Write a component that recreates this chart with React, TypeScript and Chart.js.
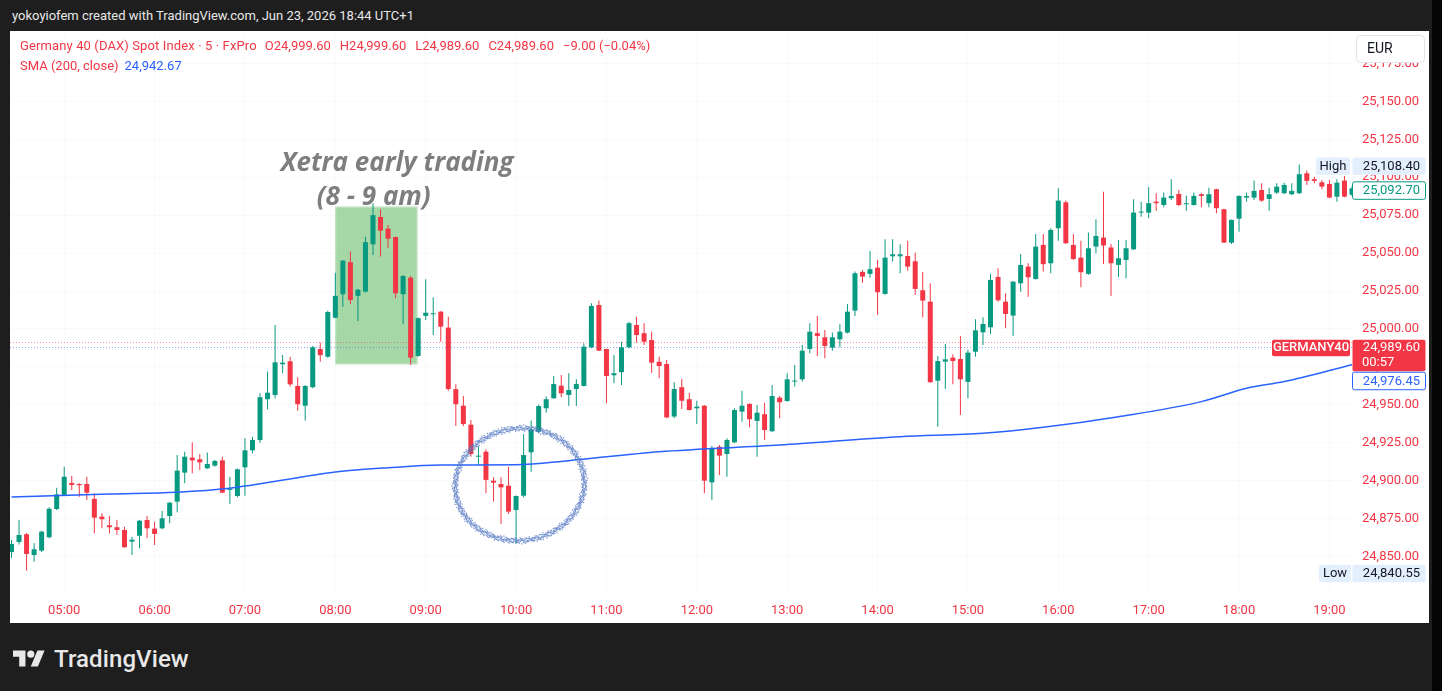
import React, { useEffect, useRef } from 'react';
import { Chart, registerables } from 'chart.js';

Chart.register(...registerables);

// ---------- data ----------
const FIRST_CANDLE = '04:25';
const CANDLE_MINUTES = 5;
const TIME_LABELS = ['05:00', '06:00', '07:00', '08:00', '09:00', '10:00', '11:00', '12:00', '13:00', '14:00', '15:00', '16:00', '17:00', '18:00', '19:00'];
const PRICE_TICKS = [24850, 24875, 24900, 24925, 24950, 24975, 25000, 25025, 25050, 25075, 25100, 25125, 25150, 25175];

const OPEN = [
  24853.0, 24859.6, 24864.7, 24851.0, 24853.9, 24862.7, 24881.3, 24890.6, 24898.5, 24897.8,
  24897.8, 24888.0, 24876.3, 24870.6, 24869.3, 24867.5, 24859.8, 24863.7, 24874.1, 24868.4,
  24868.6, 24876.7, 24886.2, 24905.3, 24915.2, 24914.1, 24908.2, 24909.9, 24913.4, 24893.9,
  24889.9, 24908.8, 24920.0, 24926.8, 24953.7, 24956.5, 24976.7, 24978.7, 24962.4, 24949.4,
  24961.6, 24986.8, 24981.7, 25007.4, 25022.9, 25044.0, 25021.8, 25024.6, 25055.8, 25073.8,
  25066.1, 25060.6, 25022.9, 25033.8, 24982.2, 25008.6, 25009.7, 25011.4, 25000.9, 24960.3,
  24949.4, 24936.9, 24915.8, 24919.1, 24900.0, 24897.8, 24896.7, 24880.7, 24890.1, 24918.7,
  24932.3, 24947.7, 24954.3, 24962.6, 24956.5, 24960.4, 24962.4, 24987.9, 25015.8, 24986.8,
  24969.5, 24971.5, 24987.9, 25002.6, 24997.2, 24992.7, 24978.4, 24976.9, 24942.3, 24961.6,
  24953.7, 24947.7, 24949.4, 24898.9, 24922.4, 24917.6, 24925.3, 24945.5, 24950.6, 24939.4,
  24943.8, 24932.6, 24954.7, 24952.5, 24965.3, 24966.8, 24986.8, 24997.2, 24994.5, 24987.7,
  24993.2, 24997.6, 25012.1, 25037.6, 25036.3, 25040.4, 25023.1, 25047.9, 25047.9, 25048.1,
  25044.6, 25025.5, 25018.0, 24965.9, 24978.4, 24981.1, 24980.2, 24965.1, 24985.0, 24997.8,
  25001.1, 25034.3, 25018.0, 25008.8, 25030.1, 25041.1, 25033.0, 25055.4, 25043.3, 25066.4,
  25083.5, 25055.4, 25047.0, 25036.3, 25054.3, 25060.2, 25053.7, 25042.2, 25045.5, 25052.5,
  25076.7, 25076.7, 25083.9, 25081.7, 25086.2, 25089.0, 25082.2, 25081.7, 25088.8, 25082.9,
  25092.1, 25078.9, 25056.9, 25072.7, 25086.6, 25086.6, 25091.6, 25085.7, 25089.9, 25089.5,
  25088.8, 25089.5, 25102.6, 25098.7, 25096.7, 25095.6, 25087.2, 25097.8, 25088.5,
];
const HIGH = [
  24860.9, 24874.1, 24865.5, 24858.7, 24867.0, 24882.5, 24895.4, 24909.2, 24903.1, 24898.3,
  24902.6, 24891.7, 24878.5, 24876.7, 24874.1, 24869.7, 24863.1, 24874.0, 24876.7, 24873.0,
  24880.0, 24886.0, 24916.9, 24919.1, 24925.3, 24917.6, 24918.5, 24913.6, 24915.8, 24902.6,
  24908.0, 24927.9, 24929.0, 24957.6, 24971.9, 25002.6, 24982.9, 24981.7, 24968.2, 24963.1,
  24988.8, 24991.0, 25012.0, 25037.1, 25045.5, 25051.0, 25026.3, 25060.8, 25082.9, 25078.9,
  25068.6, 25061.0, 25035.6, 25034.9, 25007.5, 25032.8, 25020.9, 25011.8, 25008.1, 24963.5,
  24955.8, 24940.0, 24922.9, 24920.7, 24902.2, 24902.2, 24909.2, 24890.3, 24930.8, 24939.6,
  24950.0, 24955.4, 24969.0, 24969.7, 24970.8, 24966.8, 24990.6, 25016.9, 25018.7, 24987.0,
  24982.9, 24991.6, 25004.8, 25008.1, 25003.8, 24998.2, 24981.7, 24979.6, 24964.9, 24967.0,
  24958.0, 24952.7, 24949.8, 24922.9, 24923.5, 24928.0, 24947.7, 24959.3, 24951.0, 24949.9,
  24951.4, 24963.1, 24955.8, 24970.8, 24976.3, 24989.5, 25003.8, 25008.6, 24999.3, 24997.6,
  25003.3, 25016.5, 25037.8, 25038.9, 25051.4, 25045.5, 25059.1, 25059.1, 25055.8, 25058.2,
  25050.3, 25037.6, 25030.1, 24982.2, 24990.1, 24983.3, 24995.4, 24986.2, 25006.4, 25007.7,
  25036.3, 25040.0, 25023.5, 25031.5, 25049.4, 25043.3, 25062.6, 25062.6, 25066.4, 25092.7,
  25084.6, 25062.6, 25058.2, 25063.5, 25072.3, 25090.5, 25056.0, 25058.7, 25058.7, 25085.5,
  25083.9, 25093.4, 25089.5, 25089.9, 25098.7, 25091.6, 25087.9, 25089.9, 25089.5, 25093.1,
  25092.5, 25079.2, 25072.2, 25088.0, 25089.9, 25097.8, 25096.0, 25093.1, 25096.0, 25096.4,
  25096.0, 25108.4, 25104.4, 25100.4, 25098.2, 25098.2, 25098.7, 25100.9, 25094.0,
];
const LOW = [
  24849.0, 24858.0, 24840.55, 24846.6, 24853.0, 24862.0, 24880.6, 24890.0, 24893.9, 24889.4,
  24887.3, 24865.3, 24868.6, 24865.3, 24864.2, 24856.0, 24851.0, 24855.4, 24862.0, 24857.6,
  24868.0, 24871.9, 24879.2, 24898.3, 24904.9, 24907.1, 24907.7, 24909.2, 24891.7, 24884.6,
  24889.0, 24890.1, 24918.0, 24925.0, 24947.1, 24954.3, 24970.8, 24962.0, 24946.1, 24939.6,
  24961.0, 24978.4, 24981.0, 25007.0, 25014.7, 25016.5, 25005.3, 25024.0, 25048.8, 25047.7,
  25053.2, 25020.2, 25003.1, 24976.3, 24981.7, 25005.9, 24996.0, 24991.6, 24959.3, 24936.1,
  24936.0, 24915.8, 24910.3, 24891.7, 24886.2, 24871.5, 24878.0, 24858.3, 24889.0, 24905.9,
  24931.5, 24944.8, 24954.0, 24955.0, 24949.2, 24949.2, 24962.0, 24987.3, 24985.5, 24951.0,
  24964.2, 24963.1, 24987.3, 24991.0, 24989.5, 24971.2, 24967.5, 24941.1, 24941.1, 24947.3,
  24946.3, 24937.4, 24891.7, 24887.3, 24903.8, 24902.6, 24924.7, 24938.9, 24935.2, 24915.8,
  24926.8, 24932.0, 24941.1, 24952.0, 24962.0, 24965.3, 24984.0, 24982.2, 24980.7, 24985.7,
  24987.9, 24997.0, 25008.6, 25030.5, 25033.8, 25009.2, 25022.5, 25044.4, 25036.7, 25038.4,
  25022.4, 25007.7, 24964.5, 24935.6, 24960.4, 24963.5, 24943.3, 24954.3, 24981.7, 24989.5,
  24996.7, 25018.0, 25000.5, 24995.6, 25024.6, 25021.3, 25032.5, 25037.8, 25036.7, 25058.2,
  25056.0, 25045.5, 25027.5, 25035.8, 25049.9, 25042.8, 25021.8, 25034.3, 25033.4, 25052.0,
  25074.0, 25073.0, 25078.0, 25080.2, 25085.0, 25081.0, 25078.0, 25081.3, 25080.2, 25080.2,
  25076.3, 25056.6, 25056.0, 25064.1, 25083.9, 25085.0, 25083.9, 25078.0, 25089.0, 25089.0,
  25088.3, 25089.0, 25094.9, 25096.0, 25092.1, 25086.2, 25083.9, 25086.8, 25087.5,
];
const CLOSE = [
  24858.3, 24864.2, 24851.7, 24854.8, 24866.4, 24881.5, 24891.0, 24902.6, 24897.2, 24897.0,
  24892.1, 24875.6, 24874.6, 24869.3, 24867.5, 24856.1, 24861.1, 24873.6, 24868.6, 24864.9,
  24875.2, 24885.5, 24906.6, 24915.8, 24913.4, 24912.1, 24911.0, 24913.0, 24892.1, 24894.5,
  24907.5, 24920.0, 24926.8, 24955.0, 24958.0, 24978.0, 24977.8, 24963.5, 24950.4, 24962.4,
  24987.9, 24982.7, 25011.2, 25021.8, 25045.0, 25019.1, 25025.9, 25057.2, 25075.0, 25064.8,
  25059.5, 25023.5, 25034.9, 24981.1, 25007.1, 25010.7, 25010.1, 25001.5, 24960.4, 24950.4,
  24937.4, 24917.6, 24916.3, 24900.5, 24898.7, 24895.6, 24879.6, 24889.9, 24916.9, 24933.9,
  24949.2, 24953.7, 24963.7, 24957.6, 24959.8, 24963.7, 24988.3, 25015.2, 24985.7, 24969.0,
  24970.8, 24987.9, 25003.8, 24996.0, 24991.6, 24977.8, 24975.6, 24941.7, 24960.4, 24952.7,
  24946.6, 24948.8, 24900.0, 24921.6, 24916.5, 24926.8, 24946.6, 24949.4, 24940.5, 24944.8,
  24933.4, 24955.8, 24951.7, 24966.8, 24965.9, 24985.7, 24998.2, 24995.4, 24988.8, 24994.5,
  24998.2, 25011.4, 25036.7, 25034.5, 25039.4, 25024.2, 25047.0, 25049.2, 25049.2, 25041.1,
  25026.4, 25018.7, 24964.9, 24978.9, 24980.0, 24978.9, 24966.8, 24984.4, 24999.1, 25003.3,
  25032.3, 25018.9, 25009.9, 25031.2, 25042.2, 25034.1, 25054.3, 25042.7, 25065.3, 25084.6,
  25056.5, 25046.1, 25037.4, 25053.2, 25061.3, 25055.0, 25043.3, 25046.6, 25053.2, 25076.7,
  25077.3, 25082.9, 25082.9, 25086.6, 25087.7, 25081.7, 25082.9, 25087.7, 25087.7, 25088.8,
  25079.6, 25056.9, 25071.9, 25087.7, 25087.7, 25091.0, 25084.6, 25088.8, 25093.8, 25094.9,
  25091.0, 25102.0, 25097.6, 25097.6, 25093.8, 25086.6, 25096.4, 25087.2, 25092.7,
];

const SMA_INDEX = [0, 13, 22, 29, 32, 38, 43, 50, 57, 67, 74, 86, 102, 118, 129, 137, 147, 158, 164, 169, 178];
const SMA_VALUE = [
  24889.3, 24891.2, 24892.4, 24895.0, 24897.2, 24902.0, 24905.7, 24908.5, 24910.3, 24910.5,
  24913.2, 24919.1, 24923.5, 24929.0, 24931.2, 24935.2, 24942.2, 24952.1, 24960.9, 24965.3, 24976.45,
];

const HIGH_MARK = 25108.4;
const LOW_MARK = 24840.55;
const CLOSE_MARK = 25092.7;
const LAST_PRICE = 24989.6;
const SMA_LAST = 24976.45;
const COUNTDOWN = '00:57';
const PRICE_LINE_RED = 24991.5;
const PRICE_LINE_BLUE = 24988.0;

const XETRA_INDEX = [43, 53.9];
const XETRA_PRICE = [24976.7, 25080.6];
const NOTE_LINES = ['Xetra early trading', '(8 - 9 am)'];
const NOTE_INDEX = [51.2, 48.1];
const NOTE_PRICE = [25108.9, 25086.3];
const CIRCLE_INDEX = 67.5;
const CIRCLE_PRICE = 24897.5;
const CIRCLE_HALF_CANDLES = 8.6;
const CIRCLE_HALF_POINTS = 37;

const X_MIN = -0.2;
const X_MAX = 178;
const Y_MIN = 24825.3;
const Y_MAX = 25196.4;

// ---------- helpers ----------
const UP = '#089981';
const DOWN = '#f23645';
const BLUE = '#2962ff';
const FONT = 'Roboto, "Noto Sans", sans-serif';

const toMin = (t: string) => {
  const [h, m] = t.split(':').map(Number);
  return h * 60 + m;
};
const TICK_INDEX = TIME_LABELS.map((t) => (toMin(t) - toMin(FIRST_CANDLE)) / CANDLE_MINUTES);

const fmt = (v: number) =>
  v.toLocaleString('en-US', { minimumFractionDigits: 2, maximumFractionDigits: 2 });

function roundRect(ctx: CanvasRenderingContext2D, x: number, y: number, w: number, h: number, r: number) {
  ctx.beginPath();
  ctx.moveTo(x + r, y);
  ctx.lineTo(x + w - r, y);
  ctx.quadraticCurveTo(x + w, y, x + w, y + r);
  ctx.lineTo(x + w, y + h - r);
  ctx.quadraticCurveTo(x + w, y + h, x + w - r, y + h);
  ctx.lineTo(x + r, y + h);
  ctx.quadraticCurveTo(x, y + h, x, y + h - r);
  ctx.lineTo(x, y + r);
  ctx.quadraticCurveTo(x, y, x + r, y);
  ctx.closePath();
}

const overlayPlugin = {
  id: 'overlay',
  beforeDatasetsDraw(chart: any) {
    const { ctx, chartArea, scales } = chart;
    const x = scales.x;
    const y = scales.y;
    ctx.save();
    // Xetra box
    const bx0 = x.getPixelForValue(XETRA_INDEX[0]);
    const bx1 = x.getPixelForValue(XETRA_INDEX[1]);
    const by0 = y.getPixelForValue(XETRA_PRICE[1]);
    const by1 = y.getPixelForValue(XETRA_PRICE[0]);
    ctx.fillStyle = 'rgba(76,175,80,0.5)';
    ctx.fillRect(bx0, by0, bx1 - bx0, by1 - by0);
    ctx.strokeStyle = 'rgba(200,230,201,0.9)';
    ctx.lineWidth = 1;
    ctx.strokeRect(bx0 + 0.5, by0 + 0.5, bx1 - bx0 - 1, by1 - by0 - 1);
    // dotted price lines
    const lines: [number, string][] = [
      [PRICE_LINE_RED, 'rgba(242,54,69,0.55)'],
      [PRICE_LINE_BLUE, 'rgba(41,98,255,0.55)'],
    ];
    ctx.lineWidth = 1;
    ctx.setLineDash([1, 2]);
    for (const [v, c] of lines) {
      const py = Math.round(y.getPixelForValue(v)) + 0.5;
      ctx.strokeStyle = c;
      ctx.beginPath();
      ctx.moveTo(chartArea.left, py);
      ctx.lineTo(chartArea.right, py);
      ctx.stroke();
    }
    ctx.restore();
  },
  afterDatasetsDraw(chart: any) {
    const { ctx, scales } = chart;
    const x = scales.x;
    const y = scales.y;
    ctx.save();
    // hand-drawn, spray-textured ellipse
    const cx = x.getPixelForValue(CIRCLE_INDEX);
    const cy = y.getPixelForValue(CIRCLE_PRICE);
    const rx = x.getPixelForValue(CIRCLE_INDEX + CIRCLE_HALF_CANDLES) - cx;
    const ry = y.getPixelForValue(CIRCLE_PRICE - CIRCLE_HALF_POINTS) - cy;
    const rot = -0.12;
    const cr = Math.cos(rot);
    const sr = Math.sin(rot);
    ctx.fillStyle = 'rgba(88,122,196,0.8)';
    const steps = 1500;
    for (let i = 0; i < steps; i++) {
      if ((i * 7) % 5 === 0) continue;
      const a = (i / steps) * Math.PI * 2;
      const jitter = (((i * 37) % 11) - 5) * 0.45 + (((i * 13) % 7) - 3) * 0.35;
      const ex = (rx + jitter) * Math.cos(a);
      const ey = (ry + jitter) * Math.sin(a);
      const px = cx + ex * cr - ey * sr;
      const py = cy + ex * sr + ey * cr;
      ctx.fillRect(px - 0.6, py - 0.6, 1.2, 1.2);
    }
    // note text
    ctx.fillStyle = '#7e7e7e';
    ctx.font = 'italic bold 26px "Open Sans", "DejaVu Sans", sans-serif';
    ctx.textAlign = 'center';
    ctx.textBaseline = 'middle';
    NOTE_LINES.forEach((t, i) => {
      ctx.fillText(t, x.getPixelForValue(NOTE_INDEX[i]), y.getPixelForValue(NOTE_PRICE[i]));
    });
    ctx.restore();
  },
  afterDraw(chart: any) {
    const { ctx, chartArea, scales } = chart;
    const y = scales.y;
    const left = chartArea.right;
    const w = 73;
    const h = 17.5;
    ctx.save();
    ctx.font = `13px ${FONT}`;
    ctx.textBaseline = 'middle';
    const valueBox = (top: number, height: number, bg: string, border: string | null) => {
      roundRect(ctx, left + 0.5, top, w, height, 2);
      ctx.fillStyle = bg;
      ctx.fill();
      if (border) {
        ctx.strokeStyle = border;
        ctx.lineWidth = 1;
        ctx.stroke();
      }
    };
    const text = (t: string, px: number, py: number, color: string, align: CanvasTextAlign) => {
      ctx.fillStyle = color;
      ctx.textAlign = align;
      ctx.fillText(t, px, py);
    };
    // High
    const hy = y.getPixelForValue(HIGH_MARK) - 7;
    roundRect(ctx, left - 36, hy, 34, h, 2);
    ctx.fillStyle = '#e3effd';
    ctx.fill();
    text('High', left - 19, hy + h / 2 + 0.5, '#131722', 'center');
    valueBox(hy, h, '#e3effd', null);
    text(fmt(HIGH_MARK), left + 68, hy + h / 2 + 0.5, '#131722', 'right');
    // close mark (green)
    const gy = y.getPixelForValue(CLOSE_MARK) - 6.5;
    valueBox(gy, h, '#ffffff', UP);
    text(fmt(CLOSE_MARK), left + 68, gy + h / 2 + 0.5, UP, 'right');
    // last price (red)
    const ry = y.getPixelForValue(LAST_PRICE) - 5;
    valueBox(ry, 31.5, DOWN, null);
    text(fmt(LAST_PRICE), left + 68, ry + 8.5, '#ffffff', 'right');
    text(COUNTDOWN, left + 10, ry + 23, '#ffffff', 'left');
    roundRect(ctx, left - 80, ry, 78, 16.5, 2);
    ctx.fillStyle = DOWN;
    ctx.fill();
    ctx.font = `500 13px ${FONT}`;
    text('GERMANY40', left - 41, ry + 8.5, '#ffffff', 'center');
    ctx.font = `13px ${FONT}`;
    // SMA last (blue), pushed below the red label
    const sy = Math.max(y.getPixelForValue(SMA_LAST) - 7, ry + 32.5);
    valueBox(sy, h, '#ffffff', BLUE);
    text(fmt(SMA_LAST), left + 68, sy + h / 2 + 0.5, BLUE, 'right');
    // Low
    const ly = y.getPixelForValue(LOW_MARK) - 6;
    roundRect(ctx, left - 33, ly, 32, h, 2);
    ctx.fillStyle = '#e3effd';
    ctx.fill();
    text('Low', left - 17, ly + h / 2 + 0.5, '#131722', 'center');
    valueBox(ly, h, '#e3effd', null);
    text(fmt(LOW_MARK), left + 68, ly + h / 2 + 0.5, '#131722', 'right');
    // EUR button
    roundRect(ctx, left + 4.5, 4.5, 68, 27, 4);
    ctx.fillStyle = '#ffffff';
    ctx.fill();
    ctx.strokeStyle = '#e0e3eb';
    ctx.lineWidth = 1;
    ctx.stroke();
    ctx.font = `14px ${FONT}`;
    text('EUR', left + 15, 18.5, '#131722', 'left');
    ctx.restore();
  },
};

function CandleChart() {
  const ref = useRef<HTMLCanvasElement | null>(null);
  useEffect(() => {
    if (!ref.current) return;
    const idx = OPEN.map((_, i) => i);
    const colors = idx.map((i) => (CLOSE[i] >= OPEN[i] ? UP : DOWN));
    const chart = new Chart(ref.current, {
      type: 'bar',
      data: {
        datasets: [
          {
            type: 'line',
            data: SMA_INDEX.map((k, i) => ({ x: k, y: SMA_VALUE[i] })),
            borderColor: BLUE,
            borderWidth: 1.5,
            pointRadius: 0,
            cubicInterpolationMode: 'monotone',
            order: 0,
          } as any,
          {
            type: 'bar',
            data: idx.map((i) => ({ x: i, y: [LOW[i], HIGH[i]] })),
            backgroundColor: colors,
            borderWidth: 0,
            grouped: false,
            maxBarThickness: 1,
            order: 2,
          } as any,
          {
            type: 'bar',
            data: idx.map((i) => ({ x: i, y: [OPEN[i], CLOSE[i]] })),
            backgroundColor: colors,
            borderWidth: 0,
            grouped: false,
            maxBarThickness: 5,
            minBarLength: 1,
            order: 1,
          } as any,
        ],
      },
      options: {
        animation: false,
        responsive: false,
        events: [],
        layout: { padding: 0 },
        plugins: { legend: { display: false }, tooltip: { enabled: false } },
        scales: {
          x: {
            type: 'linear',
            min: X_MIN,
            max: X_MAX,
            offset: false,
            border: { display: false },
            grid: { color: 'rgba(42,46,57,0.025)', drawTicks: false, offset: false },
            afterBuildTicks: (s: any) => {
              s.ticks = TICK_INDEX.map((v) => ({ value: v }));
            },
            afterFit: (s: any) => {
              s.height = 29;
              s.paddingLeft = 0;
              s.paddingRight = 0;
            },
            ticks: {
              autoSkip: false,
              maxRotation: 0,
              padding: 9,
              color: DOWN,
              font: { family: FONT, size: 13 },
              callback: (v: any) => TIME_LABELS[TICK_INDEX.indexOf(Number(v))] ?? '',
            },
          },
          y: {
            type: 'linear',
            position: 'right',
            min: Y_MIN,
            max: Y_MAX,
            border: { display: false },
            grid: { color: 'rgba(42,46,57,0.025)', drawTicks: false },
            afterBuildTicks: (s: any) => {
              s.ticks = PRICE_TICKS.map((v) => ({ value: v }));
            },
            afterFit: (s: any) => {
              s.width = 77;
              s.paddingTop = 0;
              s.paddingBottom = 0;
            },
            ticks: {
              padding: 10,
              color: DOWN,
              font: { family: FONT, size: 13 },
              callback: (v: any) => fmt(Number(v)),
            },
          },
        },
      } as any,
      plugins: [overlayPlugin as any],
    });
    return () => chart.destroy();
  }, []);
  return <canvas ref={ref} width={1419} height={592} style={{ display: 'block', width: 1419, height: 592 }} />;
}

export default function App() {
  return (
    <div
      style={{
        position: 'fixed',
        left: 0,
        top: 0,
        width: 1442,
        height: 691,
        background: '#1e1e1e',
        overflow: 'hidden',
        fontFamily: FONT,
      }}
    >
      <div
        style={{
          position: 'absolute',
          left: 12,
          top: 7,
          fontSize: 13,
          lineHeight: '18px',
          color: '#e8e8e8',
          whiteSpace: 'nowrap',
        }}
      >
        yokoyiofem created with TradingView.com, Jun 23, 2026 18:44 UTC+1
      </div>
      <div style={{ position: 'absolute', left: 1432, top: 0, width: 10, height: 691, background: '#050505' }} />
      <div style={{ position: 'absolute', left: 10, top: 31, width: 1419, height: 592, background: '#ffffff' }}>
        <CandleChart />
        <div
          style={{
            position: 'absolute',
            left: 10,
            top: 6,
            fontSize: 13,
            lineHeight: '18px',
            color: DOWN,
            whiteSpace: 'nowrap',
          }}
        >
          <span style={{ letterSpacing: 0.12 }}>Germany 40 (DAX) Spot Index · 5 · FxPro</span>
          <span style={{ marginLeft: 8 }}>O24,999.60</span>
          <span style={{ marginLeft: 9 }}>H24,999.60</span>
          <span style={{ marginLeft: 9 }}>L24,989.60</span>
          <span style={{ marginLeft: 9 }}>C24,989.60</span>
          <span style={{ marginLeft: 9 }}>−9.00 (−0.04%)</span>
        </div>
        <div
          style={{
            position: 'absolute',
            left: 10,
            top: 26,
            fontSize: 13,
            lineHeight: '18px',
            color: DOWN,
            whiteSpace: 'nowrap',
          }}
        >
          <span>SMA (200, close)</span>
          <span style={{ marginLeft: 6, color: BLUE }}>24,942.67</span>
        </div>
      </div>
      <div style={{ position: 'absolute', left: 13, top: 645, display: 'flex', alignItems: 'center' }}>
        <svg width={32} height={25} viewBox="0 0 36 28">
          <path d="M14 22H7V11H0V4h14v18z" fill="#e8e8e8" />
          <path d="M28 22h-8l7.5-18h8L28 22z" fill="#e8e8e8" />
          <circle cx={20} cy={8} r={4} fill="#e8e8e8" />
        </svg>
        <span style={{ marginLeft: 9, color: '#e8e8e8', fontSize: 24, fontWeight: 500, fontFamily: FONT, letterSpacing: 0.1 }}>
          TradingView
        </span>
      </div>
    </div>
  );
}
